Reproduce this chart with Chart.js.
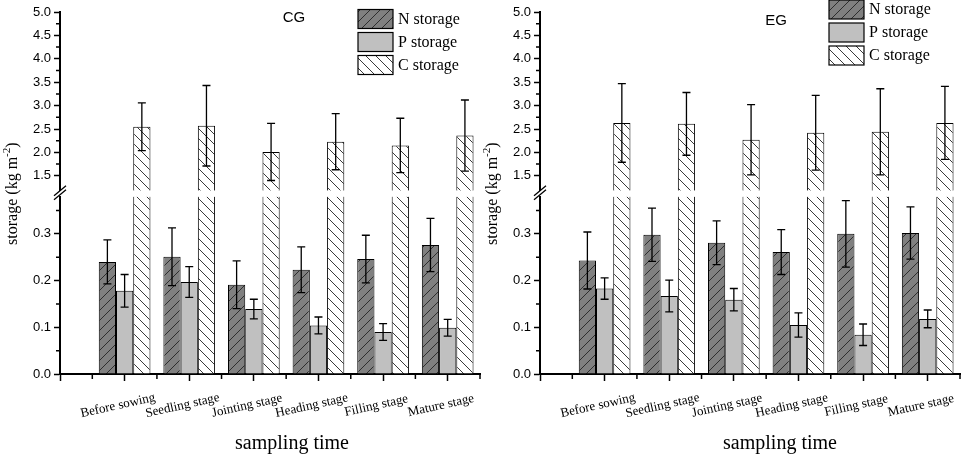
<!DOCTYPE html>
<html>
<head>
<meta charset="utf-8">
<script src="https://cdn.jsdelivr.net/npm/chart.js@4.4.1/dist/chart.umd.min.js"></script>
<style>
  html, body { margin: 0; padding: 0; background: #fff; }
  .panel { position: absolute; top: 0; width: 481px; height: 457px; }
</style>
</head>
<body>
<div class="panel" style="left:0"><canvas id="cg"></canvas></div>
<div class="panel" style="left:480px"><canvas id="eg"></canvas></div>
<script>
// ---- data ----
const stages = ['Before sowing', 'Seedling stage', 'Jointing stage', 'Heading stage', 'Filling stage', 'Mature stage'];
const seriesNames = ['N storage', 'P storage', 'C storage'];

const cgN    = [0.240, 0.251, 0.191, 0.223, 0.246, 0.276];
const cgNErr = [0.047, 0.062, 0.051, 0.049, 0.051, 0.057];
const cgP    = [0.178, 0.197, 0.139, 0.104, 0.090, 0.099];
const cgPErr = [0.035, 0.033, 0.021, 0.018, 0.018, 0.018];
const cgC    = [2.55, 2.57, 2.01, 2.23, 2.15, 2.36];
const cgCErr = [0.51, 0.86, 0.61, 0.60, 0.58, 0.76];

const egN    = [0.243, 0.298, 0.281, 0.261, 0.300, 0.302];
const egNErr = [0.061, 0.057, 0.047, 0.048, 0.071, 0.056];
const egP    = [0.183, 0.167, 0.159, 0.105, 0.084, 0.118];
const egPErr = [0.023, 0.034, 0.024, 0.026, 0.023, 0.019];
const egC    = [2.63, 2.61, 2.27, 2.42, 2.44, 2.63];
const egCErr = [0.84, 0.67, 0.75, 0.80, 0.92, 0.78];

// axis ticks
const lowTicks  = [0, 0.1, 0.2, 0.3];
const lowMinor  = [0.05, 0.15, 0.25, 0.35];
const upTicks   = [1.5, 2.0, 2.5, 3.0, 3.5, 4.0, 4.5, 5.0];
const upMinor   = [1.75, 2.25, 2.75, 3.25, 3.75, 4.25, 4.75];
const xMajor    = [-1, 0, 1, 2, 3, 4, 5];
const xMinor    = [-0.5, 0.5, 1.5, 2.5, 3.5, 4.5, 5.5];

const LOW_MAX = 0.38, UP_MIN = 1.18, UP_MAX = 5.0;
const SERIF = '"Liberation Serif", "Times New Roman", serif';
const SANS = '"Liberation Sans", Arial, sans-serif';

function hatch(bg, line, dir) {
  const s = 10;
  const c = document.createElement('canvas');
  c.width = s; c.height = s;
  const g = c.getContext('2d');
  g.fillStyle = bg;
  g.fillRect(0, 0, s, s);
  g.strokeStyle = line;
  g.lineWidth = 1;
  g.beginPath();
  if (dir > 0) {
    g.moveTo(-1, s + 1); g.lineTo(s + 1, -1);
    g.moveTo(-1, 1); g.lineTo(1, -1);
    g.moveTo(s - 1, s + 1); g.lineTo(s + 1, s - 1);
  } else {
    g.moveTo(-1, -1); g.lineTo(s + 1, s + 1);
    g.moveTo(s - 1, -1); g.lineTo(s + 1, 1);
    g.moveTo(-1, s - 1); g.lineTo(1, s + 1);
  }
  g.stroke();
  return g.createPattern(c, 'repeat');
}

const nFill = hatch('#808080', '#2e2e2e', 1);
const pFill = '#c0c0c0';
const cFill = hatch('#ffffff', '#3a3a3a', -1);
const fills = [nFill, pFill, cFill];

const pts = arr => arr.map((v, i) => ({ x: i, y: v }));

const errorBars = {
  id: 'errorBars',
  afterDatasetsDraw(chart) {
    const ctx = chart.ctx;
    chart.data.datasets.forEach((ds, di) => {
      if (!ds.errors) return;
      const meta = chart.getDatasetMeta(di);
      const ys = chart.scales[ds.yAxisID];
      ctx.save();
      ctx.strokeStyle = '#000';
      ctx.lineWidth = 1.3;
      meta.data.forEach((bar, i) => {
        const v = ds.data[i].y, e = ds.errors[i];
        const t = ys.getPixelForValue(v + e), b = ys.getPixelForValue(v - e);
        ctx.beginPath();
        ctx.moveTo(bar.x, t); ctx.lineTo(bar.x, b);
        ctx.moveTo(bar.x - 4, t); ctx.lineTo(bar.x + 4, t);
        ctx.moveTo(bar.x - 4, b); ctx.lineTo(bar.x + 4, b);
        ctx.stroke();
      });
      ctx.restore();
    });
  }
};

const decorations = {
  id: 'decorations',
  afterDraw(chart, args, o) {
    const ctx = chart.ctx;
    const xs = chart.scales.x, yl = chart.scales.yLow, yu = chart.scales.yUp;
    const area = chart.chartArea;
    const ax = area.left;
    ctx.save();
    ctx.strokeStyle = '#000';
    ctx.lineWidth = 1.5;
    // minor ticks
    ctx.beginPath();
    lowMinor.forEach(v => { const y = yl.getPixelForValue(v); ctx.moveTo(ax - 4, y); ctx.lineTo(ax, y); });
    upMinor.forEach(v => { const y = yu.getPixelForValue(v); ctx.moveTo(ax - 4, y); ctx.lineTo(ax, y); });
    xMinor.forEach(v => { const x = xs.getPixelForValue(v); ctx.moveTo(x, area.bottom); ctx.lineTo(x, area.bottom + 5); });
    ctx.stroke();
    // axis break
    const gy = (yu.bottom + yl.top) / 2;
    ctx.fillStyle = '#fff';
    ctx.beginPath();
    ctx.moveTo(ax - 6, gy + 6); ctx.lineTo(ax + 6, gy - 4);
    ctx.lineTo(ax + 6, gy - 8); ctx.lineTo(ax - 6, gy + 2);
    ctx.closePath(); ctx.fill();
    ctx.lineWidth = 1.3;
    ctx.beginPath();
    ctx.moveTo(ax - 6, gy + 6); ctx.lineTo(ax + 6, gy - 4);
    ctx.moveTo(ax - 6, gy + 2); ctx.lineTo(ax + 6, gy - 8);
    ctx.stroke();

    ctx.fillStyle = '#000';
    // y title
    ctx.save();
    ctx.translate(12, gy);
    ctx.rotate(-Math.PI / 2);
    const main = 'storage (kg m', sup = '-2', tail = ')';
    ctx.font = '16px ' + SERIF;
    const w1 = ctx.measureText(main).width, w3 = ctx.measureText(tail).width;
    ctx.font = '11px ' + SERIF;
    const w2 = ctx.measureText(sup).width;
    let sx = -(w1 + w2 + w3) / 2;
    ctx.textBaseline = 'alphabetic';
    ctx.textAlign = 'left';
    ctx.font = '16px ' + SERIF;
    ctx.fillText(main, sx, 5);
    ctx.font = '11px ' + SERIF;
    ctx.fillText(sup, sx + w1, -2);
    ctx.font = '16px ' + SERIF;
    ctx.fillText(tail, sx + w1 + w2, 5);
    ctx.restore();

    // x category labels
    ctx.font = '13px ' + SERIF;
    ctx.textAlign = 'center';
    ctx.textBaseline = 'alphabetic';
    stages.forEach((s, i) => {
      ctx.save();
      ctx.translate(xs.getPixelForValue(i) - 6, 409);
      ctx.rotate(-12.5 * Math.PI / 180);
      ctx.fillText(s, 0, 0);
      ctx.restore();
    });
    // x title
    ctx.font = '20px ' + SERIF;
    ctx.fillText('sampling time', o.xTitleX, 449);
    // panel title
    ctx.font = '15px ' + SANS;
    ctx.textBaseline = 'middle';
    ctx.fillText(o.title, o.titleX, o.titleY);
    // legend
    ctx.textAlign = 'left';
    ctx.font = '16px ' + SERIF;
    seriesNames.forEach((name, i) => {
      const y = o.legY + i * 23;
      ctx.fillStyle = fills[i];
      ctx.fillRect(o.legX, y, 35, 19);
      ctx.strokeStyle = '#000';
      ctx.lineWidth = 1.2;
      ctx.strokeRect(o.legX, y, 35, 19);
      ctx.fillStyle = '#000';
      ctx.fillText(name, o.legX + 40, y + 10);
    });
    ctx.restore();
  }
};

function yCommon(extra) {
  return Object.assign({
    type: 'linear',
    position: 'left',
    stack: 'v',
    stacked: false,
    afterFit: s => { s.width = 60; },
    ticks: { autoSkip: false, callback: v => v.toFixed(1), font: { family: SANS, size: 13 }, color: '#000', padding: 3 },
    grid: { drawOnChartArea: false, tickLength: 6, tickWidth: 1.5, tickColor: '#000' },
    border: { display: true, color: '#000', width: 2 }
  }, extra);
}

function makePanel(id, n, nErr, p, pErr, c, cErr, deco) {
  const barBase = { categoryPercentage: 0.8, barPercentage: 1, borderColor: '#000', borderWidth: 1 };
  new Chart(document.getElementById(id), {
    type: 'bar',
    data: {
      datasets: [
        Object.assign({ label: seriesNames[0], data: pts(n), errors: nErr, yAxisID: 'yLow', stack: 'N', backgroundColor: nFill }, barBase),
        Object.assign({ label: seriesNames[1], data: pts(p), errors: pErr, yAxisID: 'yLow', stack: 'P', backgroundColor: pFill }, barBase),
        Object.assign({ label: seriesNames[2], data: pts(c.map(v => Math.min(v, LOW_MAX))), yAxisID: 'yLow', stack: 'C', backgroundColor: cFill }, barBase,
          { borderWidth: { left: 1, right: 1, top: 0, bottom: 0 } }),
        Object.assign({ label: seriesNames[2], data: pts(c), errors: cErr, yAxisID: 'yUp', stack: 'C', base: UP_MIN, backgroundColor: cFill }, barBase)
      ]
    },
    options: {
      responsive: true,
      maintainAspectRatio: false,
      animation: false,
      layout: { padding: { top: 12, right: 1, left: 0, bottom: 0 } },
      plugins: { legend: { display: false }, tooltip: { enabled: false }, decorations: deco },
      scales: {
        x: {
          type: 'linear', min: -1, max: 5.5, offset: false,
          afterBuildTicks: s => { s.ticks = xMajor.map(v => ({ value: v })); },
          afterFit: s => { s.height = 83; },
          ticks: { display: false },
          grid: { offset: false, drawOnChartArea: false, tickLength: 7, tickWidth: 1.5, tickColor: '#000' },
          border: { display: true, color: '#000', width: 2 }
        },
        yLow: yCommon({
          min: 0, max: LOW_MAX, stackWeight: 177.5,
          afterBuildTicks: s => { s.ticks = lowTicks.map(v => ({ value: v })); }
        }),
        yGap: yCommon({
          min: 0, max: 1, stackWeight: 5.7,
          ticks: { display: false }, grid: { display: false }, border: { display: false }
        }),
        yUp: yCommon({
          min: UP_MIN, max: UP_MAX, stackWeight: 178.8,
          afterBuildTicks: s => { s.ticks = upTicks.map(v => ({ value: v })); }
        })
      }
    },
    plugins: [errorBars, decorations]
  });
}

makePanel('cg', cgN, cgNErr, cgP, cgPErr, cgC, cgCErr,
  { title: 'CG', titleX: 294, titleY: 18, legX: 358, legY: 9.5, xTitleX: 292 });
makePanel('eg', egN, egNErr, egP, egPErr, egC, egCErr,
  { title: 'EG', titleX: 296, titleY: 21, legX: 349, legY: 0, xTitleX: 300 });
</script>
</body>
</html>
